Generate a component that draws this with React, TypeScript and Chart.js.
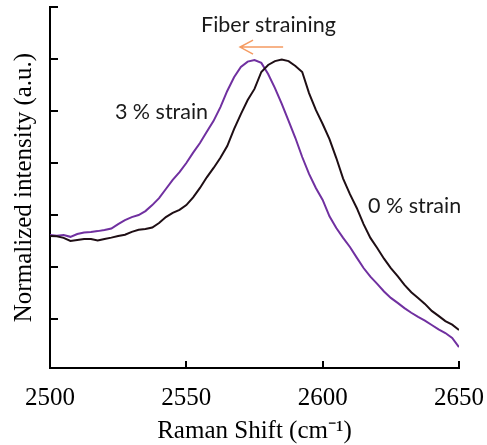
import React, { useEffect, useRef } from "react";
import { Chart, registerables } from "chart.js";

Chart.register(...registerables);

// Raman shift (cm^-1)
const ramanShift = [
  2500, 2502.5, 2505, 2507.5, 2510, 2512.5, 2515, 2517.5, 2520, 2522.5,
  2525, 2527.5, 2530, 2532.5, 2535, 2537.5, 2540, 2542.5, 2545, 2547.5,
  2550, 2552.5, 2555, 2557.5, 2560, 2562.5, 2565, 2567.5, 2570, 2572.5,
  2575, 2577.5, 2580, 2582.5, 2585, 2587.5, 2590, 2592.5, 2595, 2597.5,
  2600, 2602.5, 2605, 2607.5, 2610, 2612.5, 2615, 2617.5, 2620, 2622.5,
  2625, 2627.5, 2630, 2632.5, 2635, 2637.5, 2640, 2642.5, 2645, 2647.5,
  2650,
];

// 0 % strain (black)
const strain0 = [
  0.319, 0.318, 0.312, 0.3, 0.304, 0.308, 0.308, 0.302, 0.308, 0.313,
  0.319, 0.324, 0.335, 0.343, 0.346, 0.352, 0.369, 0.392, 0.408, 0.42,
  0.438, 0.468, 0.504, 0.545, 0.581, 0.62, 0.665, 0.73, 0.788, 0.842,
  0.885, 0.95, 0.977, 0.992, 0.998, 0.992, 0.973, 0.95, 0.869, 0.804,
  0.75, 0.692, 0.619, 0.54, 0.48, 0.427, 0.365, 0.312, 0.273, 0.232,
  0.196, 0.165, 0.131, 0.103, 0.081, 0.058, 0.031, 0.012, -0.008, -0.022,
  -0.042,
];

// 3 % strain (purple)
const strain3 = [
  0.323, 0.32, 0.323, 0.316, 0.327, 0.333, 0.335, 0.338, 0.342, 0.348,
  0.365, 0.38, 0.392, 0.4, 0.415, 0.438, 0.465, 0.5, 0.535, 0.565,
  0.6, 0.64, 0.677, 0.72, 0.762, 0.815, 0.877, 0.93, 0.969, 0.99,
  0.996, 0.985, 0.942, 0.888, 0.827, 0.762, 0.696, 0.623, 0.558, 0.504,
  0.458, 0.395, 0.35, 0.312, 0.277, 0.236, 0.196, 0.163, 0.135, 0.106,
  0.081, 0.062, 0.042, 0.024, 0.008, -0.006, -0.023, -0.04, -0.054, -0.073,
  -0.108,
];

const seriesLabels = ["0 % strain", "3 % strain"];
const xTickValues = [2500, 2550, 2600, 2650];
const yTickValues = [0, 0.2, 0.4, 0.6, 0.8, 1.0, 1.2];
const xTitle = "Raman Shift (cm\u207B\u00B9)";
const yTitle = "Normalized intensity (a.u.)";
const arrowText = "Fiber straining";

const SERIF = "'Liberation Serif', 'Times New Roman', serif";
const SANS = "Lato, 'Liberation Sans', sans-serif";

const decorPlugin = {
  id: "decor",
  afterDraw(chart: any) {
    const { ctx } = chart;
    const x = chart.scales.x;
    const y = chart.scales.y;
    const area = chart.chartArea;
    ctx.save();
    // inward tick marks
    ctx.strokeStyle = "#000";
    ctx.lineWidth = 2;
    for (const v of xTickValues) {
      if (v === x.min) continue;
      const px = Math.round(x.getPixelForValue(v));
      ctx.beginPath();
      ctx.moveTo(px, area.bottom);
      ctx.lineTo(px, area.bottom - 7);
      ctx.stroke();
    }
    for (const v of yTickValues) {
      const py = Math.round(y.getPixelForValue(v));
      ctx.beginPath();
      ctx.moveTo(area.left, py);
      ctx.lineTo(area.left + 8, py);
      ctx.stroke();
    }
    // annotations
    ctx.fillStyle = "#1a1a1a";
    ctx.font = `21.5px ${SANS}`;
    ctx.textBaseline = "middle";
    ctx.textAlign = "left";
    ctx.fillText(arrowText, x.getPixelForValue(2555.4), y.getPixelForValue(1.131));
    ctx.fillText(seriesLabels[1], x.getPixelForValue(2523.8), y.getPixelForValue(0.796));
    ctx.fillText(seriesLabels[0], x.getPixelForValue(2616.6), y.getPixelForValue(0.435));
    // arrow
    const ax0 = x.getPixelForValue(2585.5);
    const ax1 = x.getPixelForValue(2569.7);
    const ay = y.getPixelForValue(1.046);
    ctx.strokeStyle = "#F59B62";
    ctx.lineWidth = 1.5;
    ctx.beginPath();
    ctx.moveTo(ax0, ay);
    ctx.lineTo(ax1, ay);
    ctx.moveTo(ax1 + 13, ay - 7);
    ctx.lineTo(ax1, ay);
    ctx.lineTo(ax1 + 13, ay + 7);
    ctx.stroke();
    ctx.restore();
  },
};

export default function App() {
  const ref = useRef<HTMLCanvasElement | null>(null);
  useEffect(() => {
    document.body.style.margin = "0";
    const canvas = ref.current;
    if (!canvas) return;
    const chart = new Chart(canvas, {
      type: "line",
      data: {
        datasets: [
          {
            label: seriesLabels[0],
            data: ramanShift.map((v, i) => ({ x: v, y: strain0[i] })),
            borderColor: "#1e0e14",
            borderWidth: 2,
            pointRadius: 0,
            tension: 0,
          },
          {
            label: seriesLabels[1],
            data: ramanShift.map((v, i) => ({ x: v, y: strain3[i] })),
            borderColor: "#7030A0",
            borderWidth: 2,
            pointRadius: 0,
            tension: 0,
          },
        ],
      },
      options: {
        responsive: false,
        animation: false,
        devicePixelRatio: 1,
        layout: { padding: { left: 0, right: 28, top: 7, bottom: 0 } },
        plugins: { legend: { display: false }, tooltip: { enabled: false } },
        scales: {
          x: {
            type: "linear",
            min: 2500,
            max: 2650,
            afterBuildTicks: (s: any) => {
              s.ticks = xTickValues.map((v) => ({ value: v }));
            },
            afterFit: (s: any) => {
              s.height = 77;
              s.paddingLeft = 0;
              s.paddingRight = 0;
            },
            grid: { display: false, drawTicks: false },
            border: { display: true, color: "#000", width: 2 },
            ticks: {
              font: { family: SERIF, size: 25 },
              color: "#000",
              padding: 15,
              maxRotation: 0,
              autoSkip: false,
              callback: (v: any) => String(v),
            },
            title: {
              display: true,
              text: xTitle,
              color: "#000",
              font: { family: SERIF, size: 25, lineHeight: 1 },
              padding: { top: 0, bottom: 1 },
            },
          },
          y: {
            type: "linear",
            min: -0.1885,
            max: 1.2,
            afterBuildTicks: (s: any) => {
              s.ticks = yTickValues.map((v) => ({ value: v }));
            },
            afterFit: (s: any) => {
              s.width = 50;
              s.paddingTop = 0;
              s.paddingBottom = 0;
            },
            grid: { display: false, drawTicks: false },
            border: { display: true, color: "#000", width: 2 },
            ticks: { display: false },
            title: {
              display: true,
              text: yTitle,
              color: "#000",
              font: { family: SERIF, size: 25, lineHeight: 1 },
              padding: { top: 12, bottom: 0 },
            },
          },
        },
      },
      plugins: [decorPlugin],
    } as any);
    return () => chart.destroy();
  }, []);
  return (
    <canvas
      ref={ref}
      width={487}
      height={445}
      style={{ display: "block", width: 487, height: 445 }}
    />
  );
}
